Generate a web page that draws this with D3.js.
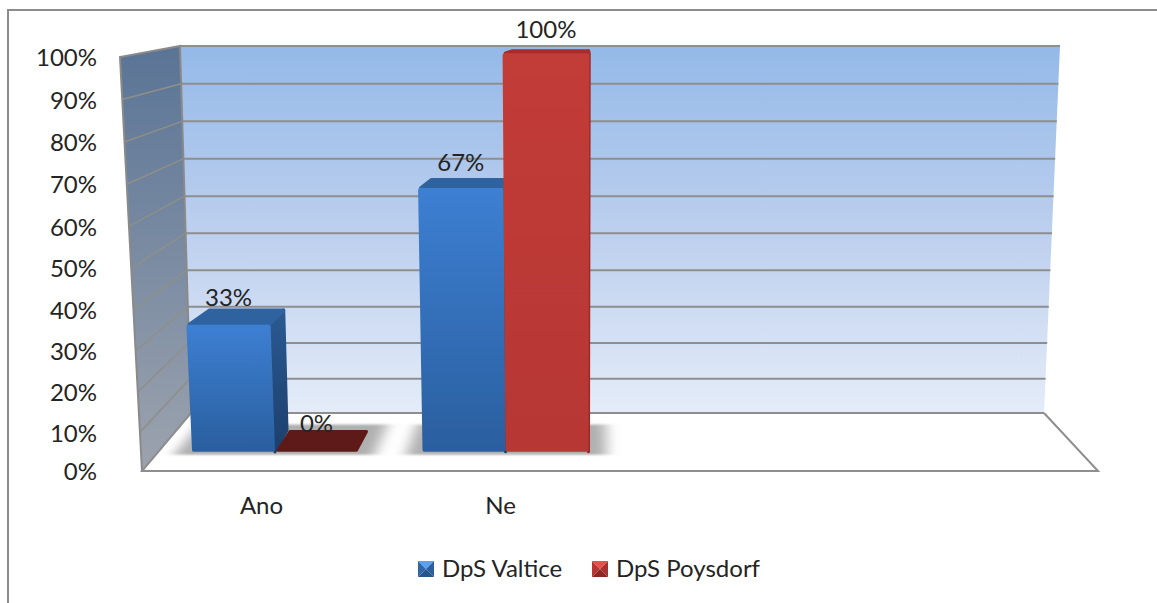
<!DOCTYPE html>
<html><head><meta charset="utf-8">
<script src="https://cdn.jsdelivr.net/npm/d3@7"></script>
<style>
html,body{margin:0;background:#fff}
text{font-family:Lato,"Open Sans",sans-serif;fill:#242424}
</style></head><body>
<svg id="c" width="1157" height="603"></svg>
<script>
// Survey answers per care home, in percent
const categories = ["Ano", "Ne", " ", "  "];
const seriesNames = ["DpS Valtice", "DpS Poysdorf"];
const valtice = [33, 67];
const poysdorf = [0, 100];
const tickValues = [0, 10, 20, 30, 40, 50, 60, 70, 80, 90, 100];

const W = 1157, H = 603, FS = 24;
const svg = d3.select("#c").attr("viewBox", [0, 0, W, H]);
const defs = svg.append("defs");

// Floor outline of the 3D box: front edge and back edge
const front = {l: 142, r: 1098, y: 471, h: 414, leanL: 22, leanR: 26};
const back = {l: 191, r: 1044, y: 413, h: 367, leanL: 11, leanR: 16};
const barDepth = [0.33, 0.707];           // depth span occupied by the bars

const lerp = d3.interpolateNumber;
const valueScale = d3.scalePow().exponent(1.03).domain([0, 100]).range([0, 1]);

// Projects (horizontal fraction, value, depth) onto the page
function project(u, v, d) {
  const t = v / 100;
  const L = lerp(front.l, back.l)(d) - lerp(front.leanL, back.leanL)(d) * t;
  const R = lerp(front.r, back.r)(d) + lerp(front.leanR, back.leanR)(d) * t;
  const y = lerp(front.y, back.y)(d) - lerp(front.h, back.h)(d) * valueScale(v);
  return [lerp(L, R)(u), y];
}
const poly = pts => "M" + pts.map(p => p.join(",")).join("L") + "Z";

const catScale = d3.scaleBand().domain(categories).range([0, 1]);
const seriesScale = d3.scaleBand().domain(seriesNames).range([0.0367, 0.2167]);

function vGrad(id, stops) {
  const g = defs.append("linearGradient").attr("id", id)
    .attr("x1", 0).attr("y1", 0).attr("x2", 0).attr("y2", 1);
  stops.forEach(([o, c]) => g.append("stop").attr("offset", o).attr("stop-color", c));
}
vGrad("wall", [[0, "#94b9e8"], [0.5, "#bccfee"], [1, "#e4ecf8"]]);
vGrad("side", [[0, "#5a7496"], [1, "#9ca3ae"]]);
vGrad("blueFront", [[0, "#3d7fd2"], [1, "#2a5f9f"]]);
vGrad("blueSide", [[0, "#2a5a92"], [1, "#1c3f6c"]]);
vGrad("redFront", [[0, "#c23c38"], [1, "#b63734"]]);
vGrad("redSide", [[0, "#a02c2a"], [1, "#962a28"]]);
defs.append("filter").attr("id", "soft")
  .attr("x", "-20%").attr("y", "-40%").attr("width", "140%").attr("height", "180%")
  .append("feGaussianBlur").attr("stdDeviation", "7 1.2");

// Chart frame: left and top edges only, the top edge runs off the page
svg.append("path").attr("d", `M8,${H}V10H${W}`)
  .attr("fill", "none").attr("stroke", "#8c8c8c").attr("stroke-width", 2);

// Back wall, side wall, floor
svg.append("path").attr("fill", "url(#wall)")
  .attr("d", poly([project(0, 100, 1), project(1, 100, 1), project(1, 0, 1), project(0, 0, 1)]));
svg.append("path").attr("fill", "url(#side)")
  .attr("d", poly([project(0, 100, 0), project(0, 100, 1), project(0, 0, 1), project(0, 0, 0)]));
svg.append("path").attr("fill", "#fff")
  .attr("d", poly([project(0, 0, 0), project(0, 0, 1), project(1, 0, 1), project(1, 0, 0)]));

// Gridlines run along the side wall, then across the back wall
const grid = svg.append("g").attr("fill", "none");
grid.selectAll("path.s").data(tickValues.filter(v => v < 100 && v > 0)).join("path").attr("class", "s")
  .attr("d", v => d3.line()([project(0, v, 0), project(0, v, 1)]))
  .attr("stroke", "#8f8f88").attr("stroke-width", 1.5);
grid.selectAll("path.b").data(tickValues).join("path").attr("class", "b")
  .attr("d", v => d3.line()([project(0, v, 1), project(1, v, 1)]))
  .attr("stroke", "#8e8e8e").attr("stroke-width", 2);
grid.append("path").attr("stroke", "#8e8e8e").attr("stroke-width", 2)
  .attr("d", d3.line()([project(0, 0, 1), project(0, 0, 0), project(1, 0, 0), project(1, 0, 1)]));
grid.append("path").attr("stroke", "#8a8a8a").attr("stroke-width", 2)
  .attr("d", d3.line()([project(0, 0, 0), project(0, 100, 0), project(0, 100, 1), project(0, 0, 1)]));

// Soft shadows on the floor beneath each bar cluster
const shadows = svg.append("g").attr("filter", "url(#soft)");
categories.slice(0, 2).forEach(c => {
  const a = catScale(c) + 0.02, b = catScale(c) + 0.236;
  shadows.append("path").attr("fill", "#7a7a7a").attr("fill-opacity", 0.6)
    .attr("d", poly([project(a, 0, 0.28), project(a, 0, 0.8), project(b, 0, 0.8), project(b, 0, 0.28)]));
});

// Bars: side face, top face and a front face with softened corners
const rows = [];
categories.slice(0, 2).forEach((c, i) => {
  rows.push({c, s: seriesNames[0], v: valtice[i]});
  rows.push({c, s: seriesNames[1], v: poysdorf[i]});
});
const colours = {
  [seriesNames[0]]: {front: "url(#blueFront)", side: "url(#blueSide)", top: "#2e639f"},
  [seriesNames[1]]: {front: "url(#redFront)", side: "url(#redSide)", top: "#a62d2b"}
};
const inset = (p, dx, dy) => [p[0] + dx, p[1] + dy];
const bars = svg.append("g");
rows.forEach(r => {
  const u0 = catScale(r.c) + seriesScale(r.s);
  const u1 = u0 + seriesScale.bandwidth();
  const [d0, d1] = barDepth, col = colours[r.s];
  const g = bars.append("g").attr("stroke-linejoin", "round");
  if (r.v === 0) {
    g.append("path").attr("fill", "#5e1a18").attr("stroke", "#5e1a18").attr("stroke-width", 3)
      .attr("d", poly([
        inset(project(u0, 0, d0), 3, -1.5), inset(project(u1, 0, d0), -1.5, -1.5),
        inset(project(u1, 0, d1), -1.5, 1.5), inset(project(u0, 0, d1), 1.5, 1.5)
      ]));
    return;
  }
  g.append("path").attr("fill", col.side).attr("stroke", col.side).attr("stroke-width", 3)
    .attr("d", poly([
      project(u1, r.v, d0), inset(project(u1, r.v, d1), -1.5, 1.5),
      inset(project(u1, 0, d1), -1.5, 0), project(u1, 0, d0)
    ]));
  g.append("path").attr("fill", col.top).attr("stroke", col.top).attr("stroke-width", 4)
    .attr("d", poly([
      inset(project(u0, r.v, d0), 3, 0), inset(project(u0, r.v, d1), 5, 2),
      inset(project(u1, r.v, d1), -2, 2), inset(project(u1, r.v, d0), -2, 0)
    ]));
  g.append("path").attr("fill", col.front).attr("stroke", col.front).attr("stroke-width", 4)
    .attr("d", poly([
      inset(project(u0, r.v, d0), 2, 2), inset(project(u1, r.v, d0), -2, 2),
      inset(project(u1, 0, d0), -2, -2), inset(project(u0, 0, d0), 2, -2)
    ]));
});

// Value labels above each bar's front face
svg.append("g").selectAll("text").data(rows).join("text")
  .attr("text-anchor", "middle").attr("font-size", FS)
  .attr("x", r => {
    const u0 = catScale(r.c) + seriesScale(r.s);
    return (project(u0, r.v, barDepth[0])[0] + project(u0 + seriesScale.bandwidth(), r.v, barDepth[0])[0]) / 2;
  })
  .attr("y", r => project(0, r.v, barDepth[1])[1] + 2.5 - 0.14 * r.v)
  .text(r => r.v + "%");

// Value axis follows the front edge of the side wall
const yAxis = d3.scalePow().exponent(1.03).domain([0, 100])
  .range([front.y, front.y - front.h]);
const yG = svg.append("g").attr("transform", "translate(97,1)")
  .call(d3.axisLeft(yAxis).tickValues(tickValues).tickSize(0).tickPadding(0).tickFormat(d => d + "%"));
yG.select(".domain").remove();
yG.selectAll("text").attr("font-size", FS).attr("font-family", null);

// Category axis along the front edge of the floor
const xAxis = d3.scaleBand().domain(categories).range([front.l, front.r]);
const xG = svg.append("g").attr("transform", "translate(0,497)")
  .call(d3.axisBottom(xAxis).tickSize(0).tickPadding(0));
xG.select(".domain").remove();
xG.selectAll("text").attr("font-size", FS).attr("font-family", null);

// Legend with pyramid-shaded keys
const legendX = d3.scaleOrdinal().domain(seriesNames).range([418, 592]);
const keyShades = {
  [seriesNames[0]]: ["#5fa0ea", "#2f67ab", "#2b5f9e", "#265589"],
  [seriesNames[1]]: ["#e2524e", "#b53633", "#a83130", "#8e2624"]
};
const legend = svg.append("g").selectAll("g").data(seriesNames).join("g")
  .attr("transform", d => `translate(${legendX(d)},561)`);
const k = 16;
legend.each(function (d) {
  const s = d3.select(this), c = [k / 2, k / 2], sh = keyShades[d];
  [[[0, 0], [k, 0], c], [[0, 0], [0, k], c], [[k, 0], [k, k], c], [[0, k], [k, k], c]]
    .forEach((t, i) => s.append("path").attr("d", poly(t)).attr("fill", sh[i]));
});
legend.append("text").attr("x", 24).attr("y", 16).attr("font-size", FS).text(d => d);
</script>
</body></html>
